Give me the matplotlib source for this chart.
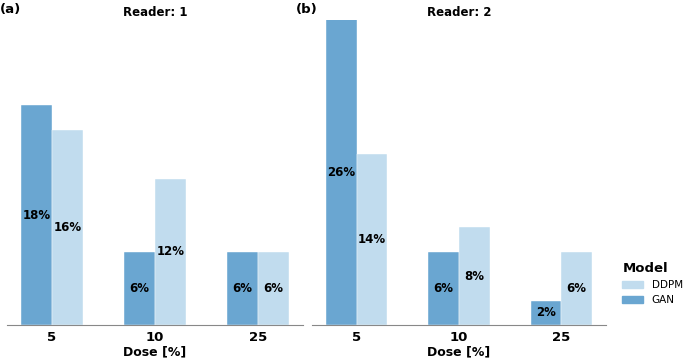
import matplotlib
matplotlib.use("Agg")
import matplotlib.pyplot as plt
from matplotlib.patches import Patch

doses = ["5", "10", "25"]
readers = ["Reader: 1", "Reader: 2"]
panel_tags = ["(a)", "(b)"]
gan = [[18, 6, 6], [26, 6, 2]]
ddpm = [[16, 12, 6], [14, 8, 6]]

GAN_C = "#6aa6d1"
DDPM_C = "#c1dcee"

fig = plt.figure(figsize=(6.85, 3.58), dpi=100)
axes = [fig.add_axes([0.0102, 0.092, 0.432, 0.852]),
        fig.add_axes([0.4555, 0.092, 0.429, 0.852])]

w = 0.3
for i, ax in enumerate(axes):
    xs = range(len(doses))
    b1 = ax.bar([x - w / 2 for x in xs], gan[i], width=w, color=GAN_C,
                edgecolor="white", linewidth=0.3)
    b2 = ax.bar([x + w / 2 for x in xs], ddpm[i], width=w, color=DDPM_C,
                edgecolor="white", linewidth=0.3)
    for bars, vals in ((b1, gan[i]), (b2, ddpm[i])):
        ax.bar_label(bars, labels=[f"{v}%" for v in vals], label_type="center",
                     fontsize=8.5, fontweight="bold")
    ax.set_xlim(-0.437, 2.437)
    ax.set_ylim(0, 25)
    ax.set_xticks(list(xs))
    ax.set_xticklabels(doses, fontsize=9.5, fontweight="bold")
    ax.tick_params(axis="x", length=0, pad=4)
    ax.set_yticks([])
    for s in ("top", "right", "left"):
        ax.spines[s].set_visible(False)
    ax.spines["bottom"].set_color("#888888")
    ax.set_xlabel("Dose [%]", fontsize=9, fontweight="bold", labelpad=1)
    ax.set_title(readers[i], fontsize=8.5, fontweight="bold", pad=3)

fig.text(0.0, 0.993, panel_tags[0], fontsize=9.5, fontweight="bold", va="top")
fig.text(0.432, 0.993, panel_tags[1], fontsize=9.5, fontweight="bold", va="top")

handles = [Patch(color=DDPM_C, label="DDPM"), Patch(color=GAN_C, label="GAN")]
leg = fig.legend(handles=handles, title="Model", loc="upper left",
                 bbox_to_anchor=(0.895, 0.295), frameon=False, fontsize=7.5,
                 title_fontproperties={"weight": "bold", "size": 9.5})
leg._legend_box.align = "left"

fig.savefig("out.png", dpi=100)
